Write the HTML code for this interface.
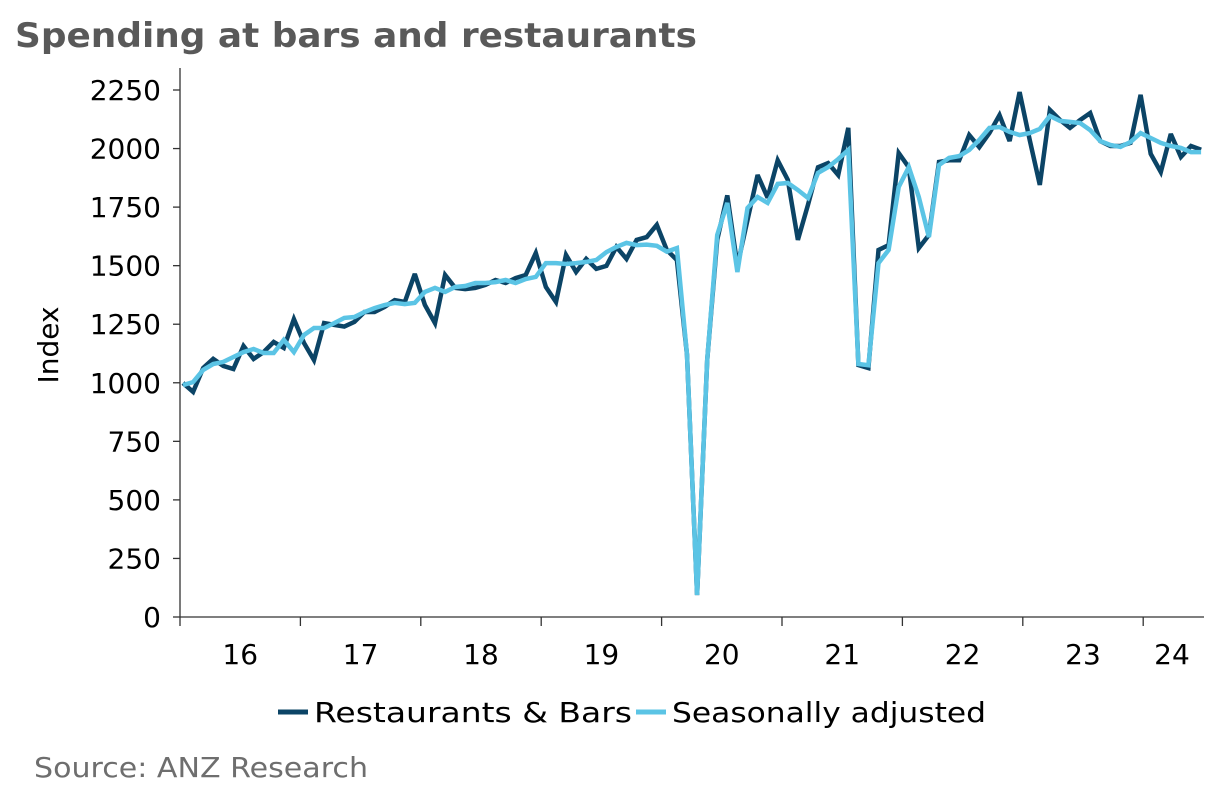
<!DOCTYPE html>
<html><head><meta charset="utf-8"><style>
body{margin:0;background:#fff;width:1221px;height:792px;overflow:hidden;font-family:"DejaVu Sans","Liberation Sans",sans-serif;}
</style></head><body>
<svg width="1221" height="792" xmlns="http://www.w3.org/2000/svg">
<text x="15" y="47" font-size="34" font-weight="bold" fill="#595959" textLength="682" lengthAdjust="spacingAndGlyphs">Spending at bars and restaurants</text>
<g id="yaxis"></g>
<g id="xaxis"></g>
<text transform="translate(58,345) rotate(-90)" text-anchor="middle" font-size="28" fill="#000">Index</text>
<g id="series"></g>
<g>
<g><line x1="278" y1="712" x2="308" y2="712" stroke="#0b4466" stroke-width="5"/><text x="314" y="722" font-size="28" textLength="318" lengthAdjust="spacingAndGlyphs">Restaurants &amp; Bars</text></g>
<g><line x1="636" y1="712" x2="666" y2="712" stroke="#5bc4e5" stroke-width="5"/><text x="672" y="722" font-size="28" textLength="314" lengthAdjust="spacingAndGlyphs">Seasonally adjusted</text></g>
</g>
<text x="34" y="777" font-size="28" fill="#6e6e6e" textLength="334" lengthAdjust="spacingAndGlyphs">Source: ANZ Research</text>
</svg>
<script>
const yTicks=[0,250,500,750,1000,1250,1500,1750,2000,2250];
const years=["16","17","18","19","20","21","22","23","24"];
const raw=[999,961,1063,1102,1072,1059,1157,1102,1131,1174,1149,1272,1170,1097,1255,1247,1240,1260,1302,1302,1324,1353,1345,1465,1332,1255,1460,1405,1400,1405,1418,1439,1426,1447,1460,1554,1409,1345,1546,1473,1529,1486,1499,1580,1529,1610,1622,1674,1567,1524,1120,94,1097,1610,1800,1500,1695,1887,1790,1950,1866,1610,1760,1920,1938,1887,2088,1076,1063,1567,1588,1981,1920,1575,1631,1943,1950,1950,2058,2006,2066,2143,2032,2241,2037,1845,2165,2122,2088,2122,2152,2032,2011,2011,2024,2229,1977,1900,2062,1964,2011,1995];
const sa=[990,1003,1055,1080,1089,1110,1131,1144,1127,1127,1183,1131,1204,1234,1234,1255,1277,1281,1302,1319,1332,1341,1336,1341,1388,1405,1388,1409,1413,1426,1426,1430,1439,1426,1443,1452,1511,1511,1507,1511,1516,1524,1558,1580,1597,1588,1590,1585,1560,1575,1120,94,1097,1631,1768,1473,1746,1793,1768,1849,1853,1823,1789,1896,1921,1955,1994,1080,1075,1511,1567,1836,1921,1793,1622,1930,1960,1968,1994,2037,2088,2092,2071,2058,2066,2084,2139,2118,2114,2109,2079,2032,2015,2007,2028,2066,2045,2024,2011,2003,1985,1985];
const NS="http://www.w3.org/2000/svg";
const y0=617,y1=90,vmax=2250,x0=180,yearW=120.4;
const yS=v=>y0-(y0-y1)*v/vmax;
const xS=i=>183+i*10.08;
function mk(tag,attrs,parent){const e=document.createElementNS(NS,tag);for(const k in attrs)e.setAttribute(k,attrs[k]);parent.appendChild(e);return e;}
const ya=document.getElementById('yaxis');
mk('line',{x1:x0,y1:68,x2:x0,y2:y0,stroke:'#333','stroke-width':1.3},ya);
yTicks.forEach(t=>{
  mk('line',{x1:x0-7,y1:yS(t),x2:x0,y2:yS(t),stroke:'#333','stroke-width':1.3},ya);
  const tx=mk('text',{x:161,y:yS(t)+10,'text-anchor':'end','font-size':28,fill:'#000'},ya);
  tx.textContent=t;
  
  
});
const xa=document.getElementById('xaxis');
mk('line',{x1:x0,y1:y0,x2:1204,y2:y0,stroke:'#333','stroke-width':1.3},xa);
for(let k=0;k<=years.length;k++){
  const x=x0+k*yearW;
  if(x<1205) mk('line',{x1:x,y1:y0,x2:x,y2:y0+9,stroke:'#333','stroke-width':1.3},xa);
}
years.forEach((yv,k)=>{
  const cx=k<8?x0+(k+0.5)*yearW:1172;
  const tx=mk('text',{x:cx,y:664,'text-anchor':'middle','font-size':28,fill:'#000'},xa);
  tx.textContent=yv;
  
  
});
const sg=document.getElementById('series');
function line(arr,col,name){
  const p=mk('polyline',{points:arr.map((v,i)=>xS(i).toFixed(1)+','+yS(v).toFixed(1)).join(' '),fill:'none',stroke:col,'stroke-width':4.5,'stroke-linejoin':'miter','stroke-miterlimit':3},sg);
  
  
}
line(raw,'#0b4466','restaurants-bars-line');
line(sa,'#5bc4e5','seasonally-adjusted-line');
</script>
</body></html>
